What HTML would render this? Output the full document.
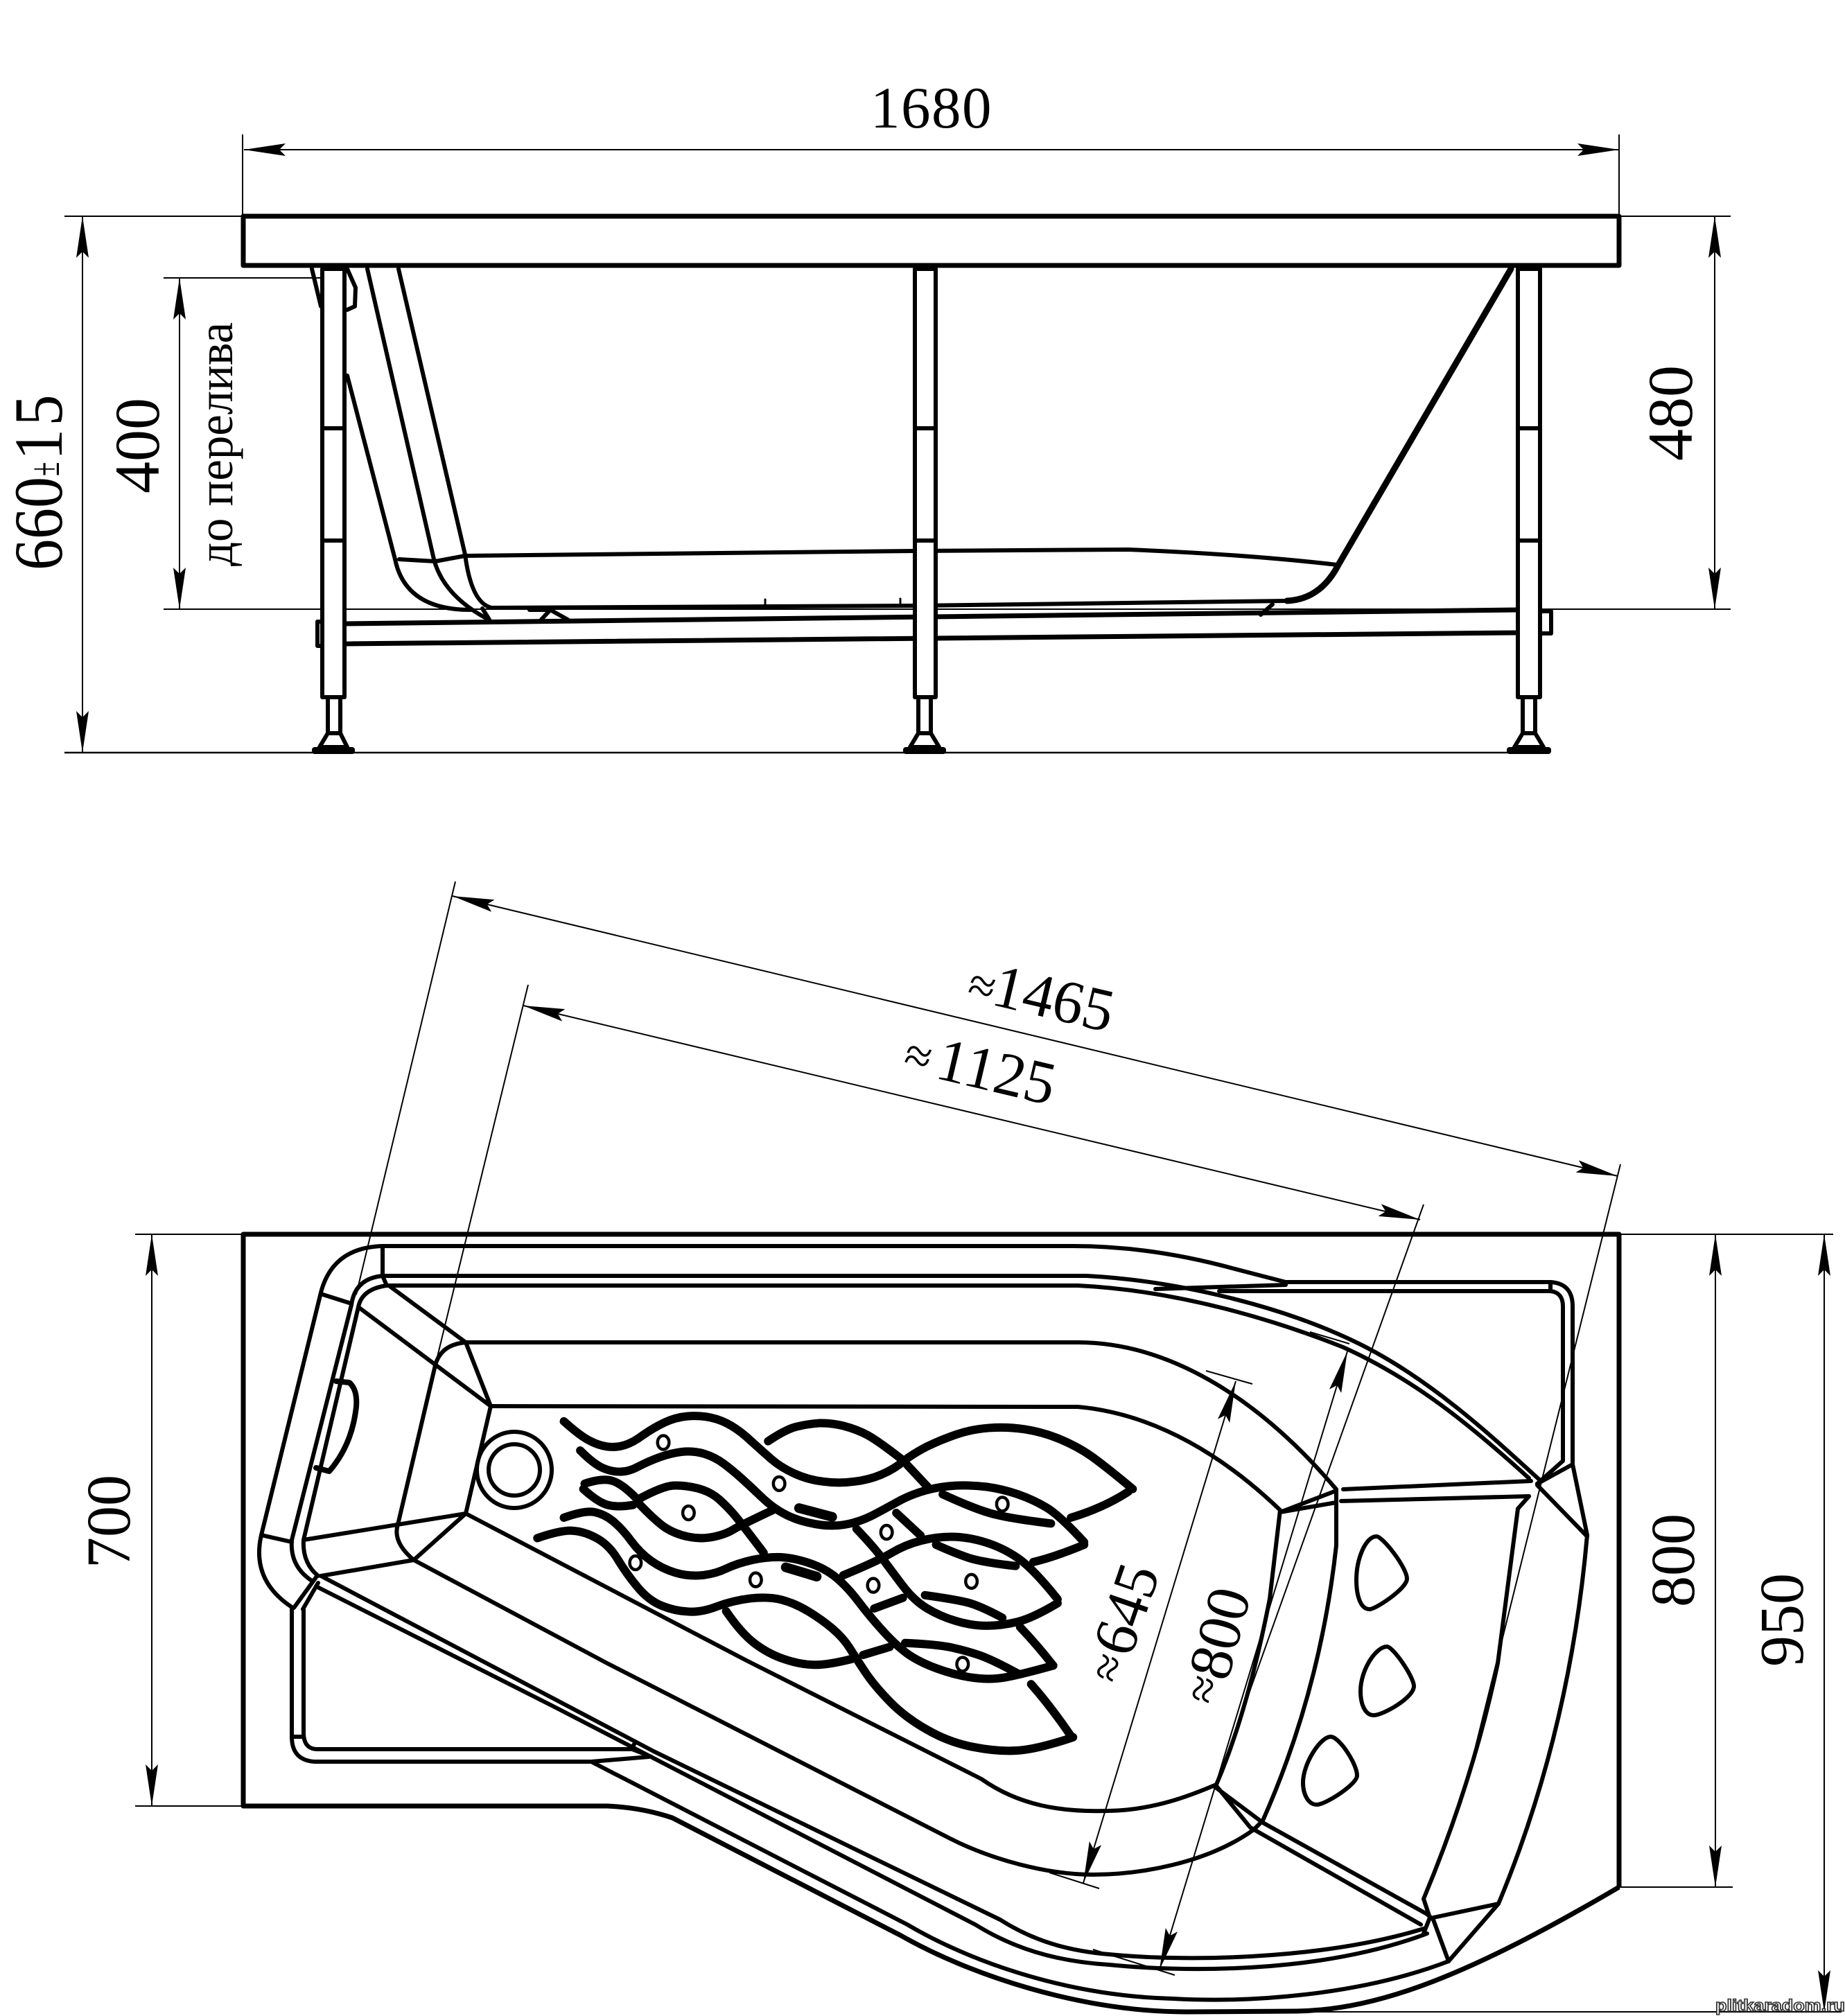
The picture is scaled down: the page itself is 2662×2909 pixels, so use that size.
<!DOCTYPE html>
<html><head><meta charset="utf-8"><style>
html,body{margin:0;padding:0;background:#fff}
svg{display:block}
text{font-family:"Liberation Serif","Noto Serif CJK SC",serif;fill:#000}
.l{fill:none;stroke:#000;stroke-width:6;stroke-linejoin:round;stroke-linecap:round}
.t{fill:none;stroke:#000;stroke-width:2}
.w{fill:#fff;stroke:#000;stroke-width:6;stroke-linejoin:round}
.f path{fill:none;stroke:#000;stroke-width:12;stroke-linejoin:round;stroke-linecap:round;vector-effect:non-scaling-stroke}
.f ellipse{fill:#fff;stroke:#000;stroke-width:4.5;vector-effect:non-scaling-stroke}
</style></head><body>
<svg xmlns="http://www.w3.org/2000/svg" width="2662" height="2909" viewBox="0 0 2662 2909">
<defs>
<marker id="a" markerUnits="userSpaceOnUse" markerWidth="60" markerHeight="18" refX="60" refY="9" orient="auto-start-reverse"><path d="M60,9 L0,0 L9,9 L0,18Z" fill="#000"/></marker>
</defs>
<rect width="2662" height="2909" fill="#fff"/>

<!-- SIDE VIEW: tub -->
<g class="l">
<path d="M501,542 L570,807 Q585,880 679,880"/>
<path d="M530,388 L626,807 Q640,860 705,894"/>
<path d="M575,388 L671,800 Q680,870 709,877 L1320,874 L1857,867"/>
<path d="M576,807 L628,810 L671,802 L1320,795 L1628,793 Q1800,800 1929,815"/>
<path d="M2180,388 L1931,815 Q1905,865 1857,867" stroke-width="9"/>
<path d="M450,388 L463,442"/>
<path d="M501,388 L513,415 L512,442 L501,447"/>
<path d="M764,880 L794,880 L819,894 M794,880 L781,894 M696,878 L706,894 M1836,872 L1819,887"/>
<path d="M1104,865 V872 M1299,864 V870" stroke-width="3"/>
<path d="M497,900 L2190,880" stroke-width="7"/>
<path d="M497,929 L2190,913" stroke-width="7"/>
</g>
<path class="t" d="M236,879 H2497"/>

<!-- legs -->
<g class="w">
<rect x="2222" y="882" width="16" height="32"/>
<rect x="458" y="897" width="7" height="35"/>
<rect x="465" y="388" width="32" height="618"/>
<rect x="1320" y="388" width="30" height="618"/>
<rect x="2190" y="388" width="32" height="618"/>
<rect x="473" y="1006" width="18" height="52"/>
<rect x="1325" y="1006" width="18" height="52"/>
<rect x="2197" y="1006" width="18" height="52"/>
</g>
<g class="l">
<path d="M465,618 H497 M465,780 H497 M1320,618 H1350 M1320,780 H1350 M2190,618 H2222 M2190,780 H2222"/>
<path d="M473,1058 L461,1078 H501 L491,1058 M1325,1058 L1313,1078 H1355 L1343,1058 M2197,1058 L2185,1078 H2227 L2215,1058"/>
</g>
<g fill="#000">
<rect x="450" y="1078" width="62" height="10" rx="4"/>
<rect x="1303" y="1078" width="62" height="10" rx="4"/>
<rect x="2174" y="1078" width="64" height="10" rx="4"/>
</g>
<path d="M93,1086 H2180" stroke="#000" stroke-width="2.5" fill="none"/>

<!-- plate -->
<rect x="351" y="312" width="1985" height="71" fill="#fff" stroke="#000" stroke-width="7" stroke-linejoin="round"/>

<!-- side dims -->
<g class="t">
<path d="M352,216 H2336" marker-start="url(#a)" marker-end="url(#a)"/>
<path d="M119,312 V1086" marker-start="url(#a)" marker-end="url(#a)"/>
<path d="M259,401 V879" marker-start="url(#a)" marker-end="url(#a)"/>
<path d="M2474,312 V879" marker-start="url(#a)" marker-end="url(#a)"/>
</g>
<path class="t" d="M350,194 V312 M2336,194 V312 M93,312 H350 M2336,312 H2497 M236,401 H462"/>

<text x="1256" y="184" font-size="85" letter-spacing="1.5">1680</text>
<text transform="translate(89,823) rotate(-90) scale(.9,1)" font-size="100">660</text>
<text transform="translate(85,687) rotate(-90) scale(.6,1)" font-size="62">±</text>
<text transform="translate(89,664) rotate(-90) scale(.9,1)" font-size="100" letter-spacing="5">15</text>
<text transform="translate(229,712) rotate(-90)" font-size="92">400</text>
<text transform="translate(335,817) rotate(-90)" font-size="72" textLength="352" lengthAdjust="spacingAndGlyphs">до перелива</text>
<text transform="translate(2441,665) rotate(-90)" font-size="92">480</text>

<!-- TOP VIEW -->
<path d="M2336,2723 V1781 H351 V2606 H876 Q925,2608 970,2623 L1300,2793 C1400,2850 1560,2903 1711,2903 L1871,2902 C1990,2900 2120,2850 2336,2723" fill="none" stroke="#000" stroke-width="7" stroke-linejoin="round"/>
<g class="l">
<path d="M552,1798 L1549,1798 Q1660,1798 1778,1830 L1855,1850 L1855,1854 L1667,1860"/>
<path d="M552,1798 Q480,1800 463,1865 L377,2215 Q362,2280 421,2319"/>
<path d="M1855,1850 L2237,1850 Q2269,1852 2269,1885 L2269,2113 L2218,2141"/>
<path d="M1759,1863 L2237,1863 Q2255,1865 2255,1885 L2255,2108 L2218,2141"/>
<path d="M2237,1850 V1863"/>
<path d="M552,1841 L1568,1841 C1700,1848 1850,1885 1957,1937 C2060,1987 2150,2070 2222,2136"/>
<path d="M558,1855 L1555,1855 C1700,1862 1840,1905 1938,1944 C2040,1990 2120,2055 2206,2133"/>
<path d="M552,1841 Q512,1845 507,1883 L421,2222 Q418,2260 450,2281"/>
<path d="M558,1855 Q522,1860 517,1886 L438,2222 Q436,2255 459,2274"/>
<path d="M552,1798 V1841 L558,1855"/>
<path d="M561,1855 L672,1937 L708,2029 M517,1886 L708,2029"/>
<path d="M672,1937 L1555,1937 C1680,1937 1810,2010 1928,2149"/>
<path d="M708,2029 L1555,2030 C1670,2040 1770,2105 1847,2179"/>
<path d="M672,1937 Q636,1940 628,1970 L574,2200 Q566,2225 597,2251"/>
<path d="M708,2029 L672,2184 L597,2251 M672,2184 L438,2222 M597,2251 L463,2274"/>
<path d="M672,2184 L1077,2396 L1416,2567 C1470,2605 1530,2615 1599,2613 C1665,2612 1720,2590 1755,2575"/>
<path d="M597,2251 L876,2400 L1371,2653 C1430,2683 1510,2705 1577,2705 C1640,2705 1740,2690 1809,2640"/>
<path d="M463,2274 L943,2527 L1443,2770 C1490,2800 1540,2815 1600,2820 C1700,2830 1900,2830 2054,2783"/>
<path d="M456,2289 L800,2463 L1407,2777 C1460,2810 1520,2830 1600,2835 C1700,2845 1900,2850 2059,2790"/>
<path d="M853,2542 L1309,2777 C1390,2825 1530,2880 1693,2884 C1800,2890 1960,2880 2090,2830"/>
<path d="M1847,2179 L1832,2307 Q1800,2470 1755,2575"/>
<path d="M1928,2149 L1928,2230 Q1905,2440 1822,2627 L1809,2640"/>
<path d="M2206,2159 L2190,2177 L2161,2400 Q2125,2570 2054,2740 L2063,2767 L2054,2790"/>
<path d="M2290,2215 Q2265,2500 2162,2747 L2090,2830"/>
<path d="M1847,2182 L1928,2151 M1847,2182 L1928,2168 M1938,2149 L2209,2137 M1935,2166 L2206,2159"/>
<path d="M2218,2143 L2290,2217 M2269,2113 L2290,2215"/>
<path d="M1751,2577 L1822,2630 L2059,2762 L2068,2770 L2090,2830"/>
<path d="M1755,2577 L1804,2637 L2050,2777"/>
<path d="M2068,2767 L2162,2747"/>
<path d="M456,2276 L424,2320 M459,2284 L437,2322"/>
<path d="M421,2319 V2506 Q421,2540 454,2542 L853,2542 L936,2535"/>
<path d="M438,2322 V2500 Q438,2524 458,2524 L912,2524 L940,2535"/>
<path d="M421,2506 H438 M917,2514 L910,2524"/>
<path d="M377,2215 L421,2225 M466,1868 L507,1881"/>
<path d="M485,1993 L504,1995 Q516,2005 514,2030 Q508,2085 475,2123 L456,2118" stroke-width="8"/>
<path d="M1986,2217 C1995,2217 2030,2262 2030,2278 C2030,2292 1985,2322 1976,2322 C1962,2322 1957,2300 1957,2280 C1957,2250 1970,2217 1986,2217Z"/>
<path d="M2001,2376 C2010,2376 2040,2420 2040,2433 C2040,2450 1995,2475 1982,2475 C1970,2475 1963,2460 1963,2440 C1963,2410 1985,2376 2001,2376Z"/>
<path d="M1920,2506 C1932,2506 1958,2545 1958,2562 C1958,2575 1912,2604 1900,2604 C1888,2604 1880,2590 1880,2572 C1880,2545 1905,2506 1920,2506Z"/>
</g>
<ellipse cx="742" cy="2121" rx="54" ry="55" fill="none" stroke="#000" stroke-width="6"/>
<ellipse cx="742" cy="2121" rx="37" ry="37" fill="none" stroke="#000" stroke-width="6"/>

<!-- fish -->
<g class="f" transform="translate(700,1980) scale(.6378,.3831)">
<path d="M178,185 Q215,240 235,257 Q255,275 275,280 Q295,285 315,275 Q335,265 357,237 Q380,210 405,190 Q430,170 457,166 Q485,162 510,171 Q535,180 557,202 Q580,225 602,260 Q625,295 647,327 Q670,360 700,382 Q730,405 765,412 Q800,420 835,412 Q870,405 897,385 Q925,365 945,337 Q965,310 997,282 Q1030,255 1065,235 Q1100,215 1140,210 Q1180,205 1220,215 Q1260,225 1300,252 Q1340,280 1370,315 Q1400,350 1465,440"/>
<path d="M640,260 Q680,215 705,205 Q730,195 755,192 Q780,190 810,202 Q840,215 865,237 Q890,260 940,325"/>
<path d="M215,295 Q245,345 265,360 Q285,375 305,375 Q325,375 347,355 Q370,335 395,320 Q420,305 445,300 Q470,295 495,307 Q520,320 540,345 Q560,370 580,400 Q600,430 625,470 Q650,510 675,532 Q700,555 730,566 Q760,578 785,578 Q810,578 835,566 Q860,555 887,530 Q915,505 940,482 Q965,460 997,445 Q1030,430 1065,427 Q1100,425 1135,432 Q1170,440 1205,460 Q1240,480 1270,510 Q1300,540 1355,640"/>
<path d="M955,350 L1000,430"/>
<path d="M710,512 L785,545" style="stroke-width:14px"/>
<path d="M222,440 Q255,490 277,500 Q300,510 335,500"/>
<path d="M225,420 Q265,398 287,409 Q310,420 345,480"/>
<path d="M345,480 Q400,430 425,427 Q450,425 480,437 Q510,450 530,480 Q550,510 565,540 Q580,570 630,680"/>
<path d="M345,490 Q385,560 407,585 Q430,610 460,620 Q490,630 517,620 Q545,610 562,592 Q580,575 650,520"/>
<path d="M178,548 Q225,520 247,527 Q270,535 290,562 Q310,590 330,635 Q350,680 375,710 Q400,740 430,755 Q460,770 490,765 Q520,760 545,740 Q570,720 605,707 Q640,695 670,697 Q700,700 735,720 Q770,740 795,775 Q820,810 845,865 Q870,920 900,975 Q930,1030 955,1060 Q980,1090 1020,1115 Q1060,1140 1100,1150 Q1140,1160 1175,1150 Q1210,1140 1285,1105"/>
<path d="M118,625 Q170,595 197,597 Q225,600 252,625 Q280,650 300,705 Q320,760 345,810 Q370,860 400,880 Q430,900 460,902 Q490,905 525,882 Q560,860 600,852 Q640,845 670,857 Q700,870 730,900 Q760,930 785,965 Q810,1000 825,1040 Q840,1080 860,1130 Q880,1180 915,1240 Q950,1300 1000,1347 Q1050,1395 1105,1412 Q1160,1430 1205,1425 Q1250,1420 1330,1375"/>
<path d="M545,900 Q580,985 610,1022 Q640,1060 675,1080 Q710,1100 740,1102 Q770,1105 830,1080"/>
<path d="M855,1065 L915,1035"/>
<path d="M680,735 L750,770" style="stroke-width:14px"/>
<path d="M1035,460 Q1100,510 1140,530 Q1180,550 1280,570"/>
<path d="M1325,548 Q1400,510 1455,450"/>
<path d="M930,530 L985,615"/>
<path d="M840,590 Q880,660 900,705 Q920,750 945,805 Q970,860 1000,890 Q1030,920 1065,937 Q1100,955 1135,955 Q1170,955 1205,940 Q1240,925 1295,870"/>
<path d="M810,765 Q890,710 920,680 Q950,650 985,635 Q1020,620 1055,620 Q1090,620 1130,640 Q1170,660 1205,700 Q1240,740 1295,855"/>
<path d="M1240,715 Q1290,695 1355,650"/>
<path d="M1020,650 Q1060,680 1090,697 Q1120,715 1200,730"/>
<path d="M995,840 Q1060,855 1090,867 Q1120,880 1170,925"/>
<path d="M950,1020 Q1020,1025 1055,1037 Q1090,1050 1120,1067 Q1150,1085 1205,1135"/>
<path d="M1210,960 Q1250,1030 1285,1105"/>
<path d="M1235,1175 Q1280,1260 1325,1370"/>
<path d="M880,890 L945,850"/>
<ellipse cx="403" cy="265" rx="13" ry="26"/><ellipse cx="665" cy="420" rx="13" ry="26"/>
<ellipse cx="460" cy="530" rx="13" ry="26"/><ellipse cx="1170" cy="497" rx="13" ry="26"/>
<ellipse cx="908" cy="603" rx="13" ry="26"/><ellipse cx="340" cy="718" rx="13" ry="26"/>
<ellipse cx="612" cy="782" rx="13" ry="26"/><ellipse cx="878" cy="803" rx="13" ry="26"/>
<ellipse cx="1100" cy="788" rx="13" ry="26"/><ellipse cx="1080" cy="1100" rx="13" ry="26"/>
</g>

<!-- top dims -->
<g class="t">
<path d="M195,1781 H351 M2336,1781 H2645 M195,2606 H351 M2336,2723 H2500 M1711,2903 H2657"/>
<path d="M219,1781 V2606" marker-start="url(#a)" marker-end="url(#a)"/>
<path d="M2475,1781 V2723" marker-start="url(#a)" marker-end="url(#a)"/>
<path d="M2632,1781 V2903" marker-start="url(#a)" marker-end="url(#a)"/>
<path d="M653,1293 L2334,1697" marker-start="url(#a)" marker-end="url(#a)"/>
<path d="M755,1451 L2049,1760" marker-start="url(#a)" marker-end="url(#a)"/>
<path d="M657,1272 L514,1868 M762,1421 L628,1970 M2338,1680 L2129,2520 M2054,1738 L1755,2575"/>
<path d="M1783,1993 L1563,2717" marker-start="url(#a)" marker-end="url(#a)"/>
<path d="M1944,1950 L1673,2842" marker-start="url(#a)" marker-end="url(#a)"/>
<path d="M1740,1978 L1807,1997 M1514,2702 L1586,2725 M1890,1922 L1947,1939 M1577,2813 L1695,2850"/>
</g>

<text transform="translate(1428,1449) rotate(13.3)" font-size="88">1465</text>
<text transform="translate(1393,1441) rotate(13.3)" font-size="70">≈</text>
<text transform="translate(1347,1555) rotate(13.3)" font-size="88">1125</text>
<text transform="translate(1301,1542) rotate(13.3)" font-size="70">≈</text>
<text transform="translate(1631,2394) rotate(-71)" font-size="88">645</text>
<text transform="translate(1614,2432) rotate(-71)" font-size="70">≈</text>
<text transform="translate(1771,2428) rotate(-75)" font-size="88">800</text>
<text transform="translate(1753,2462) rotate(-75)" font-size="70">≈</text>
<text transform="translate(187,2263) rotate(-90)" font-size="90">700</text>
<text transform="translate(2444,2319) rotate(-90)" font-size="90">800</text>
<text transform="translate(2601,2405) rotate(-90)" font-size="90">950</text>

<text x="2475" y="2902" font-size="24" font-weight="bold" textLength="187" lengthAdjust="spacingAndGlyphs" style="font-family:'Liberation Sans',sans-serif;fill:#fff;stroke:#333;stroke-width:1.6">plitkaradom.ru</text>
</svg>
</body></html>
